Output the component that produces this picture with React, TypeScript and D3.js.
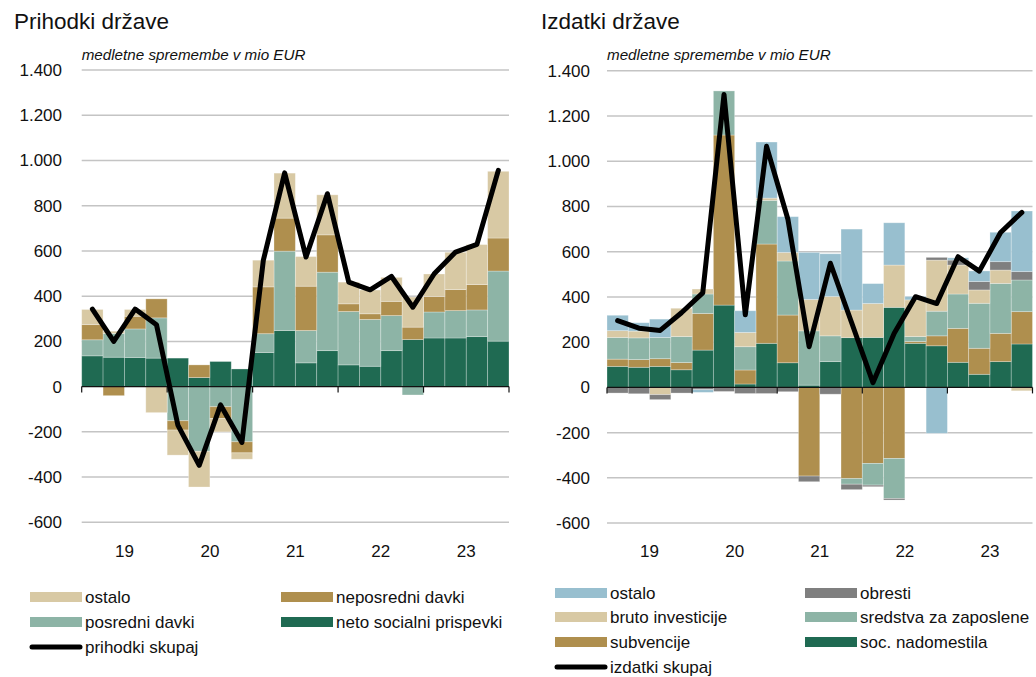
import React from "react";
import * as d3 from "d3";

// ---------- shared ----------
const quarters = [
  "2019Q1", "2019Q2", "2019Q3", "2019Q4",
  "2020Q1", "2020Q2", "2020Q3", "2020Q4",
  "2021Q1", "2021Q2", "2021Q3", "2021Q4",
  "2022Q1", "2022Q2", "2022Q3", "2022Q4",
  "2023Q1", "2023Q2", "2023Q3", "2023Q4",
];
const yearLabels = ["19", "20", "21", "22", "23"];
const yTicks = [-600, -400, -200, 0, 200, 400, 600, 800, 1000, 1200, 1400];

// ---------- Prihodki države (revenue) ----------
const revSocialni = [136, 130, 129, 126, 126, 40, 111, 78, 151, 248, 105, 159, 96, 90, 159, 208, 215, 215, 221, 201];
const revPosredni = [71, 105, 126, 178, -151, -286, -89, -244, 83, 351, 143, 347, 236, 207, 155, -37, 115, 121, 118, 310];
const revNeposredni = [67, -40, 56, 84, -41, 56, -52, -49, 207, 146, 196, 165, 34, 25, 63, 55, 68, 93, 112, 146];
const revOstalo = [67, 10, 30, -115, -111, -158, -59, -28, 118, 199, 131, 177, 96, 105, 106, 133, 100, 165, 177, 295];
const revTotal = [343, 200, 343, 274, -170, -348, -81, -247, 558, 945, 573, 853, 462, 428, 487, 351, 499, 595, 629, 956];

// ---------- Izdatki države (expenditure) ----------
const expSocNadomestila = [93, 89, 93, 78, 165, 364, 15, 195, 109, 10, 114, 220, 221, 354, 195, 184, 111, 58, 114, 192];
const expSubvencije = [32, 34, 34, 32, 162, 752, 62, 439, 211, -392, 0, -403, -336, -314, 8, 44, 150, 115, 125, 143];
const expSredstva = [96, 96, 94, 115, 86, 195, 103, 193, 239, 240, 114, -25, -96, -177, 22, 109, 152, 199, 221, 140];
const expInvesticije = [30, 30, -32, 125, 22, 0, 63, 10, 38, 139, 174, 122, 150, 187, 162, 226, 128, 59, 59, -15];
const expObresti = [-25, -28, -22, -25, -10, -18, -27, -27, -19, -25, -30, -24, -7, -7, 0, 12, 22, 37, 37, 37];
const expOstalo = [68, 37, 81, 0, -12, 0, 96, 248, 158, 208, 189, 358, 88, 187, 15, -203, 10, 47, 130, 268];
const expTotal = [295, 262, 252, 330, 418, 1295, 321, 1066, 745, 180, 549, 286, 21, 239, 401, 371, 578, 514, 685, 774];

// ---------- colours ----------
const C_BEIGE = "#D8C9A4";
const C_BROWN = "#AF8F4E";
const C_TEAL = "#8DB4A6";
const C_GREEN = "#1F6A52";
const C_BLUE = "#98BFCF";
const C_GREY = "#7F7F7F";

const FONT = "'Liberation Sans', Arial, sans-serif";
const fmt = d3.formatLocale({ decimal: ",", thousands: ".", grouping: [3], currency: ["", ""], minus: "-" }).format(",");

type Series = { key: string; label: string; values: number[]; color: string };

function Panel(props: {
  left: number; right: number; yBottom: number; yTop: number;
  series: Series[]; total: number[]; title: string; titleX: number; labelRight: number;
}) {
  const { left, right, yBottom, yTop, series, total, title, titleX, labelRight } = props;
  const x = d3.scaleBand<string>().domain(quarters).range([left, right]).padding(0);
  const y = d3.scaleLinear().domain([-600, 1400]).range([yBottom, yTop]);
  const bw = x.bandwidth();
  const rows = quarters.map((q, i) => {
    const o: any = { q };
    series.forEach((s) => (o[s.key] = s.values[i]));
    return o;
  });
  const layers = d3.stack<any>().keys(series.map((s) => s.key)).offset(d3.stackOffsetDiverging)(rows);
  const line = d3.line<number>()
    .x((_, i) => (x(quarters[i]) as number) + bw / 2)
    .y((d) => y(d));
  const y0 = y(0);
  return (
    <g>
      <text x={titleX} y={29} fontSize={22.5} fontFamily={FONT} fill="#111">{title}</text>
      <text x={left} y={60} fontSize={15.2} fontStyle="italic" fontFamily={FONT} fill="#111">medletne spremembe v mio EUR</text>
      {yTicks.filter((t) => t !== 0).map((t) => (
        <line key={t} x1={left} x2={right} y1={y(t)} y2={y(t)} stroke="#C4C4C4" strokeWidth={1.5} />
      ))}
      {yTicks.map((t) => (
        <text key={"l" + t} x={labelRight} y={y(t)} dy="0.35em" textAnchor="end" fontSize={17} fontFamily={FONT} fill="#111">{fmt(t)}</text>
      ))}
      {layers.map((layer, li) => (
        <g key={layer.key} fill={series[li].color}>
          {layer.map((d, i) => {
            const a = y(d[0]);
            const b = y(d[1]);
            const h = Math.abs(a - b);
            if (h < 0.01) return null;
            return (
              <rect key={i} x={x(quarters[i])} y={Math.min(a, b)} width={bw} height={h}
                stroke="#ffffff" strokeOpacity={0.35} strokeWidth={0.8} />
            );
          })}
        </g>
      ))}
      <line x1={left} x2={right} y1={y0} y2={y0} stroke="#111" strokeWidth={1.2} />
      {d3.range(0, 21, 4).map((k) => (
        <line key={"t" + k} x1={left + k * bw} x2={left + k * bw} y1={y0} y2={y0 + 6} stroke="#111" strokeWidth={1.2} />
      ))}
      {yearLabels.map((lab, k) => (
        <text key={lab} x={left + (4 * k + 2) * bw} y={557} textAnchor="middle" fontSize={17} fontFamily={FONT} fill="#111">{lab}</text>
      ))}
      <path d={line(total) as string} fill="none" stroke="#000" strokeWidth={5} strokeLinejoin="round" strokeLinecap="round" />
    </g>
  );
}

function LegendItem(props: { x: number; y: number; color: string; label: string; isLine?: boolean }) {
  const { x, y, color, label, isLine } = props;
  return (
    <g>
      {isLine ? (
        <line x1={x + 2} x2={x + 50} y1={y} y2={y} stroke="#000" strokeWidth={5} strokeLinecap="round" />
      ) : (
        <rect x={x} y={y - 5} width={52} height={10} fill={color} />
      )}
      <text x={x + 55} y={y} dy="0.35em" fontSize={17} fontFamily={FONT} fill="#111">{label}</text>
    </g>
  );
}

export default function App() {
  const revSeries: Series[] = [
    { key: "soc", label: "neto socialni prispevki", values: revSocialni, color: C_GREEN },
    { key: "pos", label: "posredni davki", values: revPosredni, color: C_TEAL },
    { key: "nep", label: "neposredni davki", values: revNeposredni, color: C_BROWN },
    { key: "ost", label: "ostalo", values: revOstalo, color: C_BEIGE },
  ];
  const expSeries: Series[] = [
    { key: "soc", label: "soc. nadomestila", values: expSocNadomestila, color: C_GREEN },
    { key: "sub", label: "subvencije", values: expSubvencije, color: C_BROWN },
    { key: "sre", label: "sredstva za zaposlene", values: expSredstva, color: C_TEAL },
    { key: "inv", label: "bruto investicije", values: expInvesticije, color: C_BEIGE },
    { key: "obr", label: "obresti", values: expObresti, color: C_GREY },
    { key: "ost", label: "ostalo", values: expOstalo, color: C_BLUE },
  ];
  return (
    <svg width={1036} height={677} style={{ position: "absolute", left: 0, top: 0, background: "#fff" }}>
      <rect width={1036} height={677} fill="#fff" />
      <Panel left={81.7} right={509} yBottom={522.3} yTop={70} series={revSeries} total={revTotal}
        title="Prihodki države" titleX={14} labelRight={62} />
      <Panel left={607} right={1032.5} yBottom={523.1} yTop={70.8} series={expSeries} total={expTotal}
        title="Izdatki države" titleX={541} labelRight={590} />
      {/* left legend */}
      <LegendItem x={30} y={597} color={C_BEIGE} label="ostalo" />
      <LegendItem x={281} y={597} color={C_BROWN} label="neposredni davki" />
      <LegendItem x={30} y={622} color={C_TEAL} label="posredni davki" />
      <LegendItem x={281} y={622} color={C_GREEN} label="neto socialni prispevki" />
      <LegendItem x={30} y={647} color="#000" label="prihodki skupaj" isLine />
      {/* right legend */}
      <LegendItem x={555} y={593} color={C_BLUE} label="ostalo" />
      <LegendItem x={805} y={593} color={C_GREY} label="obresti" />
      <LegendItem x={555} y={617} color={C_BEIGE} label="bruto investicije" />
      <LegendItem x={805} y={617} color={C_TEAL} label="sredstva za zaposlene" />
      <LegendItem x={555} y={642} color={C_BROWN} label="subvencije" />
      <LegendItem x={805} y={642} color={C_GREEN} label="soc. nadomestila" />
      <LegendItem x={555} y={667} color="#000" label="izdatki skupaj" isLine />
    </svg>
  );
}
